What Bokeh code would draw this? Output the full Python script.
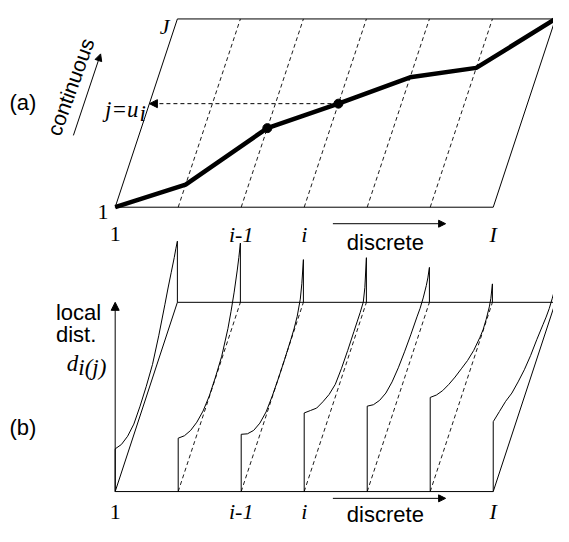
import numpy as np
from bokeh.plotting import figure
from bokeh.models import Range1d, Arrow, NormalHead
from bokeh.core.properties import value
from bokeh.embed import file_html
from bokeh.resources import INLINE

# ---------------- data ----------------
columns = [1, 2, 3, 4, 5, 6, 7]                       # discrete index i (I = 7)
path_j = [0.0, 0.12, 0.42, 0.55, 0.69, 0.74, 1.0]     # warping path j = u_i (fraction of J)
marked_columns = [3, 4]                               # columns i-1 and i
i_tick_columns = [1, 3, 4, 7]
i_tick_labels = ["1", "i-1", "i", "I"]
i_tick_style = ["normal", "italic", "italic", "italic"]
j_tick_values = [0.0, 1.0]
j_tick_labels = ["1", "J"]

# local distance d_i(j) sampled along j (continuous axis)
j_samples = [0.0, 0.1, 0.2, 0.3, 0.4, 0.5, 0.6, 0.7, 0.8, 0.85, 0.9, 0.95, 0.975, 1.0]
dist_1 = [44, 29, 18, 11, 10, 11, 14, 24, 37, 44, 50, 56, 60, 63]
dist_2 = [55, 38, 24, 13, 5, 1, 1, 3, 12, 20, 30, 43, 51, 61]
dist_3 = [59, 40, 24, 12, 4, 1, 0, 0, 1, 2, 5, 13, 24, 44]
dist_4 = [81, 64, 47, 34, 22, 13, 10, 9, 9, 9, 9, 10, 20, 46]
dist_5 = [88, 70, 55, 43, 35, 30, 27, 25, 24, 23, 24, 27, 30, 36]
dist_6 = [97, 80, 65, 52, 40, 29, 18, 9, 3, 1, 2, 5, 9, 19]
dist_7 = [72, 63, 54, 43, 35, 28, 23, 20, 16, 14, 13, 14, 15, 18]
local_dist = [dist_1, dist_2, dist_3, dist_4, dist_5, dist_6, dist_7]

# ---------------- layout (geometry of the oblique projection, in drawing units) ----------------
X_LEFT = 118.0       # x of column 1 at j = 0
COL_STEP = 64.83     # x step per column
SKEW = 64.0          # x shift from j = 0 to j = 1
A_BASE, A_DEPTH = 213.0, 194.0
B_BASE, B_DEPTH = 506.0, 195.0
D_SCALE = 1.0
VIEW_W, VIEW_H = 569, 542      # drawing units shown
W, H = 553, 526                # figure size in px

SANS = value("Liberation Sans")
SERIF = value("Liberation Serif")
SANS_SIZE = "22px"
SERIF_SIZE = "22px"


def sx(i, j):
    return X_LEFT + (np.asarray(i, dtype=float) - 1) * COL_STEP + np.asarray(j, dtype=float) * SKEW


def sy(j, base, depth, d=0.0):
    return -(base - np.asarray(j, dtype=float) * depth - np.asarray(d, dtype=float) * D_SCALE)


p = figure(width=W, height=H, x_range=Range1d(0, VIEW_W), y_range=Range1d(-VIEW_H, 0),
           output_backend="svg", toolbar_location=None, x_axis_type=None, y_axis_type=None,
           min_border=0)
p.outline_line_color = None
p.background_fill_color = "white"

first, last = columns[0], columns[-1]
inner = columns[1:-1]


def head(size):
    return NormalHead(size=size, fill_color="black", line_color="black", line_width=1)


def serif_text(x, y, t, align="center", style="italic", size=SERIF_SIZE):
    p.text(x=[x], y=[y], text=[t], text_font=SERIF, text_font_style=style, text_font_size=size,
           text_align=align, text_baseline="alphabetic", text_color="black")


def sans_text(x, y, t, align="center", baseline="alphabetic", angle=0, size=SANS_SIZE):
    p.text(x=[x], y=[y], text=[t], text_font=SANS, text_font_size=size, angle=angle,
           angle_units="deg", text_align=align, text_baseline=baseline, text_color="black")


# ---------------- panel (a) ----------------
ya0, ya1 = float(sy(0, A_BASE, A_DEPTH)), float(sy(1, A_BASE, A_DEPTH))
p.multi_line([[sx(first, 0), sx(last, 0)], [sx(first, 1), sx(last, 1)],
              [sx(first, 0), sx(first, 1)], [sx(last, 0), sx(last, 1)]],
             [[ya0, ya0], [ya1, ya1], [ya0, ya1], [ya0, ya1]],
             line_color="black", line_width=1)

p.multi_line([[sx(c, 0), sx(c, 1)] for c in inner], [[ya0, ya1] for c in inner],
             line_color="black", line_width=0.9, line_dash="4 3")

p.line(sx(columns, path_j), sy(path_j, A_BASE, A_DEPTH), line_color="black", line_width=4.5)

mj = [path_j[c - 1] for c in marked_columns]
p.scatter(sx(marked_columns, mj), sy(mj, A_BASE, A_DEPTH), size=9, color="black")

u_i = path_j[marked_columns[1] - 1]
p.add_layout(Arrow(end=head(8),
                   x_start=float(sx(marked_columns[1], u_i)), y_start=float(sy(u_i, A_BASE, A_DEPTH)),
                   x_end=float(sx(first, u_i)), y_end=float(sy(u_i, A_BASE, A_DEPTH)),
                   line_color="black", line_width=1, line_dash="4 3"))

for c, lab, st in zip(i_tick_columns, i_tick_labels, i_tick_style):
    serif_text(float(sx(c, 0)), -241, lab, style=st)
serif_text(111, -218, j_tick_labels[0], align="right", style="normal")
serif_text(174, -27, j_tick_labels[1], align="right")
serif_text(142, -112, "j=u", align="right", size="23px")
serif_text(143, -116, "i", align="left", size="23px")

sans_text(23, -105, "(a)", baseline="middle")
sans_text(72, -89, "continuous", baseline="middle", angle=70, size="21px")
p.add_layout(Arrow(end=head(7), x_start=75, y_start=-139, x_end=103, y_end=-55,
                   line_color="black", line_width=1))
p.add_layout(Arrow(end=head(7), x_start=342, y_start=-230, x_end=458, y_end=-230,
                   line_color="black", line_width=1))
sans_text(396, -249, "discrete")

# ---------------- panel (b) ----------------
yb0, yb1 = float(sy(0, B_BASE, B_DEPTH)), float(sy(1, B_BASE, B_DEPTH))
p.multi_line([[sx(first, 0), sx(last, 0)], [sx(first, 1), sx(last, 1)],
              [sx(first, 0), sx(first, 1)], [sx(last, 0), sx(last, 1)]],
             [[yb0, yb0], [yb1, yb1], [yb0, yb1], [yb0, yb1]],
             line_color="black", line_width=1)

p.multi_line([[sx(c, 0), sx(c, 1)] for c in inner], [[yb0, yb1] for c in inner],
             line_color="black", line_width=0.9, line_dash="4 3")

curve_xs, curve_ys = [], []
for c, d in zip(columns, local_dist):
    curve_xs.append([float(sx(c, 0))] + list(sx(c, j_samples)) + [float(sx(c, 1))])
    curve_ys.append([yb0] + list(sy(j_samples, B_BASE, B_DEPTH, d)) + [yb1])
p.multi_line(curve_xs, curve_ys, line_color="black", line_width=1)

p.add_layout(Arrow(end=head(8), x_start=float(sx(first, 0)), y_start=yb0,
                   x_end=float(sx(first, 0)), y_end=yb1, line_color="black", line_width=1))

for c, lab, st in zip(i_tick_columns, i_tick_labels, i_tick_style):
    serif_text(float(sx(c, 0)), -527, lab, style=st)

sans_text(57, -322, "local", align="left")
sans_text(57, -344, "dist.", align="left")
serif_text(80, -374, "d", align="right", size="23px")
serif_text(80, -378, "i(j)", align="left", size="23px")
sans_text(23, -440, "(b)", baseline="middle")

p.add_layout(Arrow(end=head(7), x_start=342, y_start=-513, x_end=458, y_end=-513,
                   line_color="black", line_width=1))
sans_text(396, -530, "discrete")

open("out.html", "w").write(file_html(p, INLINE))
